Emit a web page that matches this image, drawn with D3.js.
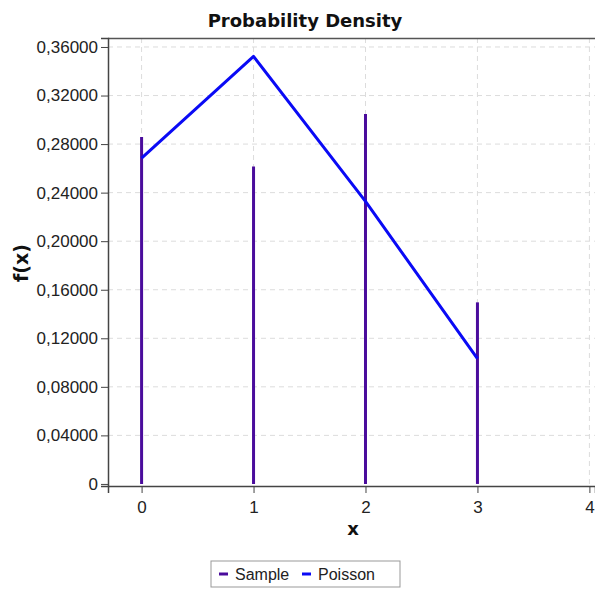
<!DOCTYPE html>
<html>
<head>
<meta charset="utf-8">
<script src="https://cdn.jsdelivr.net/npm/d3@7"></script>
<style>
  body { margin: 0; background: #fff; }
  text { font-family: "Liberation Sans", Arial, sans-serif; }
</style>
</head>
<body>
<div id="chart"></div>
<script>
// values
var xs = [0, 1, 2, 3]
var sample = [0.2858, 0.2616, 0.3048, 0.1496]
var poisson = [0.2685, 0.3522, 0.2328, 0.1032]
var xTicks = [0, 1, 2, 3, 4]
var yTicks = [0, 0.04, 0.08, 0.12, 0.16, 0.20, 0.24, 0.28, 0.32, 0.36]
var legendNames = ["Sample", "Poisson"]

var purple = "#4a0c9c"
var blue = "#0a0af5"

var width = 595, height = 589
var margin = {top: 38, right: 0, bottom: 103, left: 108}
var w = width - margin.left - margin.right
var h = height - margin.top - margin.bottom

var x = d3.scaleLinear().domain([-0.3, 4.05]).range([0, w])
var y = d3.scaleLinear().domain([-0.0017, 0.3674]).range([h, 0])

var svg = d3.select("#chart").append("svg")
    .attr("width", width)
    .attr("height", height)

var g = svg.append("g")
    .attr("transform", "translate(" + margin.left + "," + margin.top + ")")

// grid
g.selectAll(".gx").data(xTicks).enter().append("line")
    .attr("x1", d => x(d)).attr("x2", d => x(d))
    .attr("y1", 0).attr("y2", h)
    .attr("stroke", "#dcdcdc").attr("stroke-dasharray", "5,4")
g.selectAll(".gy").data(yTicks.slice(1)).enter().append("line")
    .attr("x1", 0).attr("x2", w)
    .attr("y1", d => y(d)).attr("y2", d => y(d))
    .attr("stroke", "#dcdcdc").attr("stroke-dasharray", "5,4")

// top border
g.append("line").attr("x1", 0).attr("x2", w).attr("y1", 0.5).attr("y2", 0.5)
    .attr("stroke", "#555").attr("stroke-width", 1.5)

// minor ticks
var xMinor = d3.range(-0.25, 4.05, 0.25)
var yMinor = d3.range(0, 0.3674, 0.008)

var xAxis = g.append("g").attr("transform", "translate(0," + h + ")")
xAxis.call(d3.axisBottom(x).tickValues(xMinor).tickSize(4).tickFormat(""))
xAxis.call(d3.axisBottom(x).tickValues(xTicks).tickSize(7).tickFormat(d3.format("d")))
xAxis.selectAll("path").attr("stroke", "#444").attr("stroke-width", 1.5)
xAxis.selectAll("line").attr("stroke", "#444")
xAxis.selectAll("text").style("font-size", "17px").attr("fill", "#222").attr("dy", "1.0em")

var yAxis = g.append("g")
yAxis.call(d3.axisLeft(y).tickValues(yMinor).tickSize(4).tickFormat(""))
yAxis.call(d3.axisLeft(y).tickValues(yTicks).tickSize(7)
    .tickFormat(d => d === 0 ? "0" : d3.format(".5f")(d).replace(".", ",")))
yAxis.selectAll("path").attr("stroke", "#444").attr("stroke-width", 1.5)
yAxis.selectAll("line").attr("stroke", "#444")
yAxis.selectAll("text").style("font-size", "17px").attr("fill", "#222")

// sample bars
g.selectAll(".bar").data(xs).enter().append("line")
    .attr("x1", d => x(d)).attr("x2", d => x(d))
    .attr("y1", y(0)).attr("y2", (d, i) => y(sample[i]))
    .attr("stroke", purple).attr("stroke-width", 3)

// poisson line
var line = d3.line().x(d => x(d[0])).y(d => y(d[1]))
g.append("path")
    .datum(xs.map((d, i) => [d, poisson[i]]))
    .attr("d", line)
    .attr("fill", "none").attr("stroke", blue).attr("stroke-width", 3)
    .attr("stroke-linejoin", "round")

// titles
svg.append("text").attr("x", 305).attr("y", 27).attr("text-anchor", "middle")
    .style("font-family", "'DejaVu Sans', Verdana, sans-serif")
    .style("font-weight", "bold").style("font-size", "18px").attr("fill", "#111")
    .text("Probability Density")
svg.append("text").attr("x", 353).attr("y", 535).attr("text-anchor", "middle")
    .style("font-family", "'DejaVu Sans', Verdana, sans-serif")
    .style("font-weight", "bold").style("font-size", "18px").attr("fill", "#111")
    .text("x")
svg.append("text").attr("transform", "translate(28,263) rotate(-90)").attr("text-anchor", "middle")
    .style("font-family", "'DejaVu Sans', Verdana, sans-serif")
    .style("font-weight", "bold").style("font-size", "19px").attr("fill", "#111")
    .text("f(x)")

// legend
var legend = svg.append("g").attr("transform", "translate(211,561)")
legend.append("rect").attr("width", 189).attr("height", 26)
    .attr("fill", "#fff").attr("stroke", "#999").attr("stroke-width", 1)
var legendColors = [purple, blue]
var legendX = [8, 91]
legendNames.forEach(function (name, i) {
    legend.append("line").attr("x1", legendX[i]).attr("x2", legendX[i] + 9)
        .attr("y1", 13).attr("y2", 13)
        .attr("stroke", legendColors[i]).attr("stroke-width", 3)
    legend.append("text").attr("x", legendX[i] + 16).attr("y", 19)
        .style("font-size", "16px").attr("fill", "#222").text(name)
})
</script>
</body>
</html>
